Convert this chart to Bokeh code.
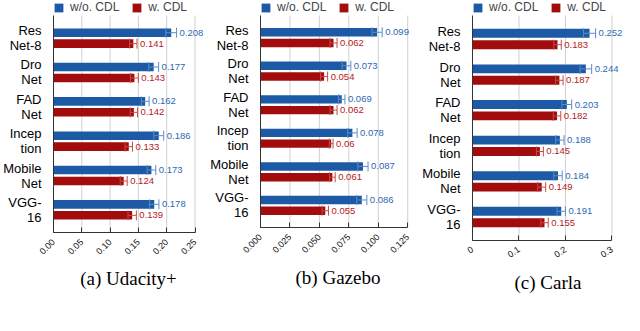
import math
from bokeh.plotting import figure
from bokeh.models import ColumnDataSource, Range1d, FixedTicker, Legend
from bokeh.layouts import row
from bokeh.embed import file_html
from bokeh.resources import INLINE

networks = ["Res\nNet-8", "Dro\nNet", "FAD\nNet", "Incep\ntion", "Mobile\nNet", "VGG-\n16"]
series_names = ["w/o. CDL", "w. CDL"]

udacity_wo = [0.208, 0.177, 0.162, 0.186, 0.173, 0.178]
udacity_w = [0.141, 0.143, 0.142, 0.133, 0.124, 0.139]
udacity_wo_err = [0.0095, 0.0087, 0.0069, 0.0087, 0.0077, 0.0082]
udacity_w_err = [0.0065, 0.0069, 0.0065, 0.0065, 0.0062, 0.0074]

gazebo_wo = [0.099, 0.073, 0.069, 0.078, 0.087, 0.086]
gazebo_w = [0.062, 0.054, 0.062, 0.06, 0.061, 0.055]
gazebo_wo_err = [0.0043, 0.0037, 0.0027, 0.004, 0.0043, 0.0043]
gazebo_w_err = [0.003, 0.003, 0.003, 0.0016, 0.0024, 0.0027]

carla_wo = [0.252, 0.244, 0.203, 0.188, 0.184, 0.191]
carla_w = [0.183, 0.187, 0.182, 0.145, 0.149, 0.155]
carla_wo_err = [0.013, 0.0125, 0.0105, 0.009, 0.009, 0.009]
carla_w_err = [0.008, 0.008, 0.008, 0.0075, 0.0085, 0.008]

udacity_ticks = [0.0, 0.05, 0.1, 0.15, 0.2, 0.25]
udacity_tick_labels = ["0.00", "0.05", "0.10", "0.15", "0.20", "0.25"]
gazebo_ticks = [0.0, 0.025, 0.05, 0.075, 0.1, 0.125]
gazebo_tick_labels = ["0.000", "0.025", "0.050", "0.075", "0.100", "0.125"]
carla_ticks = [0.0, 0.1, 0.2, 0.3]
carla_tick_labels = ["0", "0.1", "0.2", "0.3"]

captions = ["(a) Udacity+", "(b) Gazebo", "(c) Carla"]

BLUE = "#1d5aa5"
RED = "#a30c0c"
BLUE_ERR = "#5a8ccc"
RED_ERR = "#c44a4a"
BLUE_TXT = "#2c69b3"
RED_TXT = "#b3191c"
SANS = "Liberation Sans"
SERIF = "Liberation Serif"

N = len(networks)
PAD = 0.66          # category-axis padding below first / above last group
OFF = 0.16          # half distance between the two bars of a group
LEG_PX = 15         # room kept above the bars for the legend


def make(caption, wo, w, wo_err, w_err, xend, ticks, tick_labels, orient,
         width, plot_h, right_border):
    ypos = [float(N - 1 - i) for i in range(N)]
    src = ColumnDataSource(dict(
        y=ypos, yb=[y + OFF for y in ypos], yr=[y - OFF for y in ypos],
        wo=wo, w=w,
        wo_lo=[v - e for v, e in zip(wo, wo_err)],
        wo_hi=[v + e for v, e in zip(wo, wo_err)],
        w_lo=[v - e for v, e in zip(w, w_err)],
        w_hi=[v + e for v, e in zip(w, w_err)],
        wo_txt=[str(v) for v in wo],
        w_txt=[str(v) for v in w],
    ))
    y0 = -PAD
    y1 = N - 1 + PAD
    unit = plot_h / (y1 - y0)
    yend = y1 + LEG_PX / unit
    p = figure(y_range=Range1d(y0, yend), x_range=Range1d(0, xend),
               width=width, frame_height=plot_h + LEG_PX,
               output_backend="svg", toolbar_location=None,
               min_border_left=0, min_border_right=right_border,
               min_border_top=0, min_border_bottom=0)
    p.outline_line_color = None
    p.background_fill_color = "white"
    p.xgrid.grid_line_color = None
    p.ygrid.grid_line_color = None

    gsrc = ColumnDataSource(dict(x=ticks))
    p.segment(x0="x", y0=y0, x1="x", y1=y1, source=gsrc,
              line_color="#d0d0d0", line_width=1)

    rb = p.hbar(y="yb", left=0, right="wo", height=0.25, fill_color=BLUE,
                line_color=None, source=src)
    rr = p.hbar(y="yr", left=0, right="w", height=0.25, fill_color=RED,
                line_color=None, source=src)

    for base, lo, hi, col in [("yb", "wo_lo", "wo_hi", BLUE_ERR),
                              ("yr", "w_lo", "w_hi", RED_ERR)]:
        p.segment(x0=lo, y0=base, x1=hi, y1=base, line_color=col,
                  line_width=1, source=src)
        for xf in (lo, hi):
            p.scatter(x=xf, y=base, marker="dash", angle=math.pi / 2,
                      size=10, line_color=col, line_width=1, source=src)

    for base, xf, tf, col in [("yb", "wo_hi", "wo_txt", BLUE_TXT),
                              ("yr", "w_hi", "w_txt", RED_TXT)]:
        p.text(x=xf, y=base, text=tf, source=src, x_offset=3,
               text_baseline="middle", text_align="left",
               text_font={"value": SANS}, text_font_size="9.5px",
               text_color=col)

    leg = Legend(items=[(series_names[0], [rb]), (series_names[1], [rr])],
                 orientation="horizontal", location="top_left",
                 glyph_width=11, glyph_height=11, label_standoff=6,
                 spacing=12, padding=0, margin=0, label_height=12,
                 label_text_font=SANS, label_text_font_size="12px",
                 border_line_color=None, background_fill_alpha=0)
    p.add_layout(leg)

    xa = p.xaxis[0]
    xa.ticker = FixedTicker(ticks=ticks)
    xa.bounds = (ticks[0], ticks[-1])
    xa.major_label_overrides = {float(t): s for t, s in zip(ticks, tick_labels)}
    xa.major_label_orientation = orient
    xa.major_label_text_font = SANS
    xa.major_label_text_font_size = "9px"
    xa.major_label_text_color = "#111111"
    xa.major_label_standoff = 8
    xa.major_tick_in = 5
    xa.major_tick_out = 0
    xa.minor_tick_line_color = None
    xa.axis_line_color = "#333333"
    xa.major_tick_line_color = "#333333"
    xa.axis_label = caption
    xa.axis_label_text_font = SERIF
    xa.axis_label_text_font_size = "19px"
    xa.axis_label_text_font_style = "normal"
    xa.axis_label_text_color = "black"
    xa.axis_label_standoff = 8

    ya = p.yaxis[0]
    ya.ticker = FixedTicker(ticks=ypos)
    ya.major_label_overrides = {y: name for y, name in zip(ypos, networks)}
    ya.bounds = (y0, y1)
    ya.major_tick_line_color = None
    ya.minor_tick_line_color = None
    ya.axis_line_color = "#333333"
    ya.major_label_text_font = SANS
    ya.major_label_text_font_size = "13px"
    ya.major_label_text_color = "black"
    ya.major_label_text_line_height = 1.0
    ya.major_label_standoff = 6
    return p


pa = make(captions[0], udacity_wo, udacity_w, udacity_wo_err, udacity_w_err,
          0.265, udacity_ticks, udacity_tick_labels, math.pi / 4, 207, 217, 4)
pb = make(captions[1], gazebo_wo, gazebo_w, gazebo_wo_err, gazebo_w_err,
          0.1316, gazebo_ticks, gazebo_tick_labels, math.pi / 4, 212, 212, 4)
pc = make(captions[2], carla_wo, carla_w, carla_wo_err, carla_w_err,
          0.325, carla_ticks, carla_tick_labels, 0.6, 205, 225, 1)

layout = row(pa, pb, pc, spacing=0)
open("out.html", "w").write(file_html(layout, INLINE))
